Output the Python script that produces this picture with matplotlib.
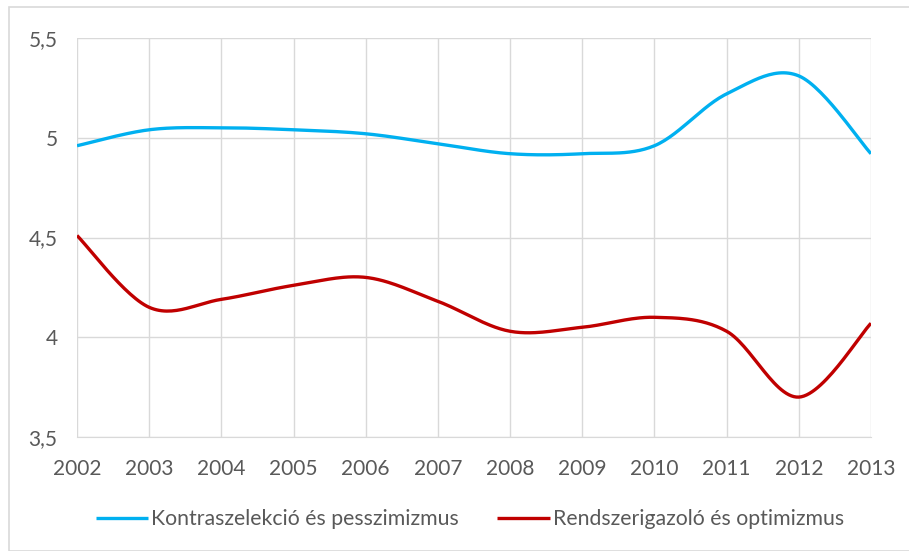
import matplotlib

matplotlib.use("Agg")

import matplotlib.pyplot as plt
import numpy as np
from matplotlib.patches import Rectangle

years = [2002, 2003, 2004, 2005, 2006, 2007, 2008, 2009, 2010, 2011, 2012, 2013]
kontra = [4.96, 5.04, 5.05, 5.04, 5.02, 4.97, 4.92, 4.92, 4.96, 5.22, 5.31, 4.92]
rendszer = [4.51, 4.15, 4.19, 4.26, 4.30, 4.18, 4.03, 4.05, 4.10, 4.03, 3.70, 4.07]
y_ticks = [3.5, 4.0, 4.5, 5.0, 5.5]
y_labels = ["3,5", "4", "4,5", "5", "5,5"]

BLUE = "#00B0F0"
RED = "#C00000"
GRID = "#D9D9D9"
TEXT = "#595959"


def smooth(xs, ys, n=30):
    # Excel-style smoothed line: cubic Bezier segments, control points from neighbours
    x = np.asarray(xs, float)
    y = np.asarray(ys, float)
    px = np.concatenate([[x[0]], x, [x[-1]]])
    py = np.concatenate([[y[0]], y, [y[-1]]])
    out_x, out_y = [], []
    t = np.linspace(0, 1, n)
    for i in range(len(x) - 1):
        p0 = np.array([px[i + 1], py[i + 1]])
        p3 = np.array([px[i + 2], py[i + 2]])
        c1 = p0 + (np.array([px[i + 2], py[i + 2]]) - np.array([px[i], py[i]])) / 6
        c2 = p3 - (np.array([px[i + 3], py[i + 3]]) - np.array([px[i + 1], py[i + 1]])) / 6
        b = ((1 - t) ** 3)[:, None] * p0 + (3 * (1 - t) ** 2 * t)[:, None] * c1 \
            + (3 * (1 - t) * t ** 2)[:, None] * c2 + (t ** 3)[:, None] * p3
        out_x.extend(b[:, 0])
        out_y.extend(b[:, 1])
    return out_x, out_y


plt.rcParams["font.family"] = ["Lato", "DejaVu Sans"]

fig = plt.figure(figsize=(9.09, 5.51), dpi=100)
ax = fig.add_axes([77 / 909, 1 - 437 / 551, 794 / 909, 399 / 551])

fig.patches.append(Rectangle((9 / 909, 0), 1, 1 - 7 / 551, transform=fig.transFigure,
                             fill=False, edgecolor=GRID, linewidth=1.2))

bx, by = smooth(years, kontra)
rx, ry = smooth(years, rendszer)
ax.plot(bx, by, color=BLUE, lw=2.4, label="Kontraszelekció és pesszimizmus", solid_capstyle="butt")
ax.plot(rx, ry, color=RED, lw=2.4, label="Rendszerigazoló és optimizmus", solid_capstyle="butt")

ax.set_xlim(years[0], years[-1])
ax.set_ylim(3.5, 5.5)
ax.set_xticks(years)
ax.set_yticks(y_ticks)
ax.set_yticklabels(y_labels)
ax.grid(True, color=GRID, lw=1)
ax.set_axisbelow(True)
for side in ["top", "right", "left"]:
    ax.spines[side].set_visible(False)
ax.spines["bottom"].set_color(GRID)
ax.tick_params(length=0, labelsize=15, labelcolor=TEXT)
ax.tick_params(axis="x", pad=16)
ax.tick_params(axis="y", pad=14)

fig.legend(loc="center", bbox_to_anchor=(470 / 909, 1 - 519 / 551), ncol=2, frameon=False,
           fontsize=15.3, labelcolor=TEXT, handlelength=2.45, handletextpad=0.15, columnspacing=1.8)

fig.savefig("out.png", dpi=100)
